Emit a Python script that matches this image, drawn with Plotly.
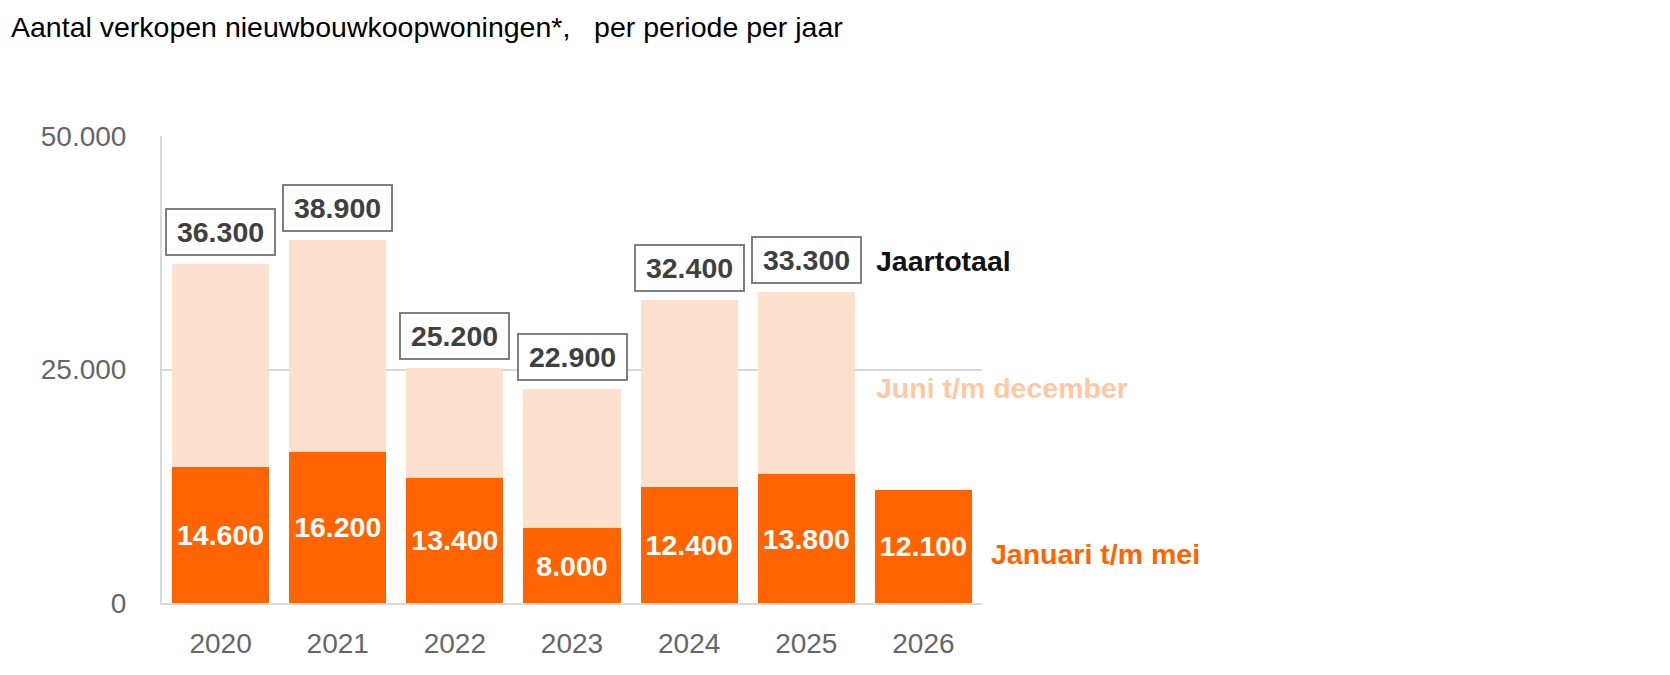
import plotly.graph_objects as go

years = ["2020", "2021", "2022", "2023", "2024", "2025", "2026"]
jan_mei = [14600, 16200, 13400, 8000, 12400, 13800, 12100]
jaartotaal = [36300, 38900, 25200, 22900, 32400, 33300, None]
juni_dec = [t - j if t is not None else None for t, j in zip(jaartotaal, jan_mei)]

title_text = "Aantal verkopen nieuwbouwkoopwoningen*,\u00a0\u00a0\u00a0per periode per jaar"
label_total = "Jaartotaal"
label_juni = "Juni t/m december"
label_jan = "Januari t/m mei"

ORANGE = "#FF6400"
LIGHT = "#FDE0CD"
LIGHT_TXT = "#FFC8A3"
FONT = "Liberation Sans, Arial, sans-serif"

W, H = 1670, 675
L, R, T, B = 154, 974, 128, 595

def px(xp):
    return (xp - L) / (R - L)

def py(yp):
    return (B - yp) / (B - T)

fig = go.Figure()
fig.add_trace(go.Bar(
    x=years, y=jan_mei, marker=dict(color=ORANGE, line=dict(width=0)),
    texttemplate="%{y:,.0f}", textposition="inside", insidetextanchor="middle",
    textangle=0,
    textfont=dict(family=FONT, size=28.5, color="white", weight="bold"),
    hoverinfo="skip", showlegend=False,
))
fig.add_trace(go.Bar(
    x=years, y=juni_dec, marker=dict(color=LIGHT, line=dict(width=0)),
    hoverinfo="skip", showlegend=False,
))

annotations = []
for i, tot in enumerate(jaartotaal):
    if tot is None:
        continue
    annotations.append(dict(
        x=i, y=tot, xref="x", yref="y", yanchor="bottom", xanchor="center",
        yshift=8, text=f"{tot:,}".replace(",", "."), showarrow=False,
        font=dict(family=FONT, size=28.5, color="#404040", weight="bold"),
        bordercolor="#7F7F7F", borderwidth=2, borderpad=3,
        width=101, height=38, bgcolor="white",
    ))

annotations += [
    dict(x=px(3), y=py(19), xref="paper", yref="paper", xanchor="left", yanchor="middle",
         text=title_text, showarrow=False, borderpad=0, borderwidth=0,
         font=dict(family=FONT, size=28.5, color="black")),
    dict(x=px(868), y=py(253), xref="paper", yref="paper", xanchor="left", yanchor="middle",
         text=label_total, showarrow=False, borderpad=0, borderwidth=0,
         font=dict(family=FONT, size=28.5, color="#111111", weight="bold")),
    dict(x=px(868), y=py(380), xref="paper", yref="paper", xanchor="left", yanchor="middle",
         text=label_juni, showarrow=False, borderpad=0, borderwidth=0,
         font=dict(family=FONT, size=28.5, color=LIGHT_TXT, weight="bold")),
    dict(x=px(983), y=py(546), xref="paper", yref="paper", xanchor="left", yanchor="middle",
         text=label_jan, showarrow=False, borderpad=0, borderwidth=0,
         font=dict(family=FONT, size=28.5, color=ORANGE, weight="bold")),
]

fig.update_layout(
    width=W, height=H,
    margin=dict(l=L, r=W - R, t=T, b=H - B, pad=0),
    barmode="stack", bargap=0.17,
    separators=",.",
    plot_bgcolor="white", paper_bgcolor="white",
    annotations=annotations,
    xaxis=dict(type="category", categoryorder="array", categoryarray=years,
               range=[-0.5, len(years) - 0.5], autorange=False,
               showline=True, linecolor="#D9D9D9", linewidth=2,
               showgrid=False, ticks="", ticklabelstandoff=14,
               tickfont=dict(family=FONT, size=28, color="#666666"), fixedrange=True),
    yaxis=dict(range=[0, 50000], autorange=False, tickvals=[0, 25000, 50000], tickformat=",d",
               showline=True, linecolor="#D9D9D9", linewidth=2,
               showgrid=True, gridcolor="#D9D9D9", gridwidth=2, zeroline=False,
               ticks="", ticklabelstandoff=28,
               tickfont=dict(family=FONT, size=28, color="#666666"), fixedrange=True),
)

fig.write_html("out.html")
